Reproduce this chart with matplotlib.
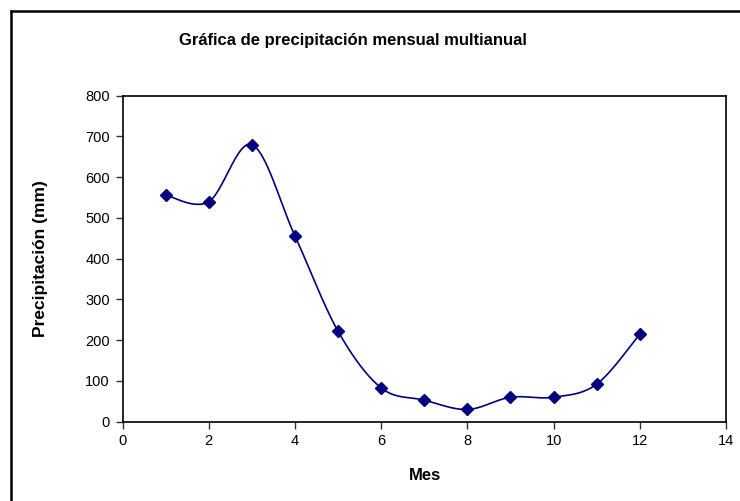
import numpy as np
import matplotlib
matplotlib.use("Agg")
import matplotlib.pyplot as plt
from matplotlib.lines import Line2D

plt.rcParams['font.family'] = ['Liberation Sans', 'DejaVu Sans']

mes = [1, 2, 3, 4, 5, 6, 7, 8, 9, 10, 11, 12]
precipitacion = [556, 540, 680, 456, 222, 83, 53, 30, 60, 60, 92, 215]

title = "Gráfica de precipitación mensual multianual"
xlabel = "Mes"
ylabel = "Precipitación (mm)"
navy = "#000080"


def smooth_curve(x, y, n=30):
    # Excel-like smoothed line: Catmull-Rom through the points as cubic Beziers
    x = np.asarray(x, float)
    y = np.asarray(y, float)
    px = np.concatenate([[x[0]], x, [x[-1]]])
    py = np.concatenate([[y[0]], y, [y[-1]]])
    xs, ys = [], []
    t = np.linspace(0, 1, n)
    for i in range(1, len(px) - 2):
        p0 = np.array([px[i], py[i]])
        p3 = np.array([px[i + 1], py[i + 1]])
        c1 = p0 + (np.array([px[i + 1], py[i + 1]]) - np.array([px[i - 1], py[i - 1]])) / 6
        c2 = p3 - (np.array([px[i + 2], py[i + 2]]) - np.array([px[i], py[i]])) / 6
        b = ((1 - t) ** 3)[:, None] * p0 + (3 * (1 - t) ** 2 * t)[:, None] * c1 \
            + (3 * (1 - t) * t ** 2)[:, None] * c2 + (t ** 3)[:, None] * p3
        xs.extend(b[:, 0])
        ys.extend(b[:, 1])
    return np.array(xs), np.array(ys)


fig = plt.figure(figsize=(7.40, 5.01), dpi=100)
ax = fig.add_axes([122.5 / 740, 1 - 421.7 / 501, (726 - 122.5) / 740, (421.7 - 95.7) / 501])

sx, sy = smooth_curve(mes, precipitacion)
ax.plot(sx, sy, color=navy, lw=1.2, zorder=2)
ax.plot(mes, precipitacion, linestyle='none', marker='D', markersize=6.5,
        color=navy, zorder=3)

ax.set_xlim(0, 14)
ax.set_ylim(0, 800)
ax.set_xticks(np.arange(0, 15, 2))
ax.set_yticks(np.arange(0, 801, 100))
ax.tick_params(axis='both', direction='out', length=5, width=1, color='#333333',
               labelsize=10.5, pad=4)
for s in ax.spines.values():
    s.set_color('black')
    s.set_linewidth(1.2)

ax.set_xlabel(xlabel, fontsize=12, fontweight='bold', va='center', ha='center')
ax.set_ylabel(ylabel, fontsize=12.5, fontweight='bold', va='center', ha='center')
ax.xaxis.set_label_coords((425 - 122.5) / 603.5, (421.7 - 476) / 326)
ax.yaxis.set_label_coords((41 - 122.5) / 603.5, 0.5)

fig.text(353 / 740, 1 - 40 / 501, title, fontsize=12, fontweight='bold',
         ha='center', va='center')

# chart-area border (left and top, cropped at right and bottom)
bx = 11 / 740
by = 1 - 11 / 501
fig.add_artist(Line2D([bx, bx], [0, by], transform=fig.transFigure, color='black', lw=1.8))
fig.add_artist(Line2D([bx, 1], [by, by], transform=fig.transFigure, color='black', lw=1.8))

fig.savefig("out.png", dpi=100)
